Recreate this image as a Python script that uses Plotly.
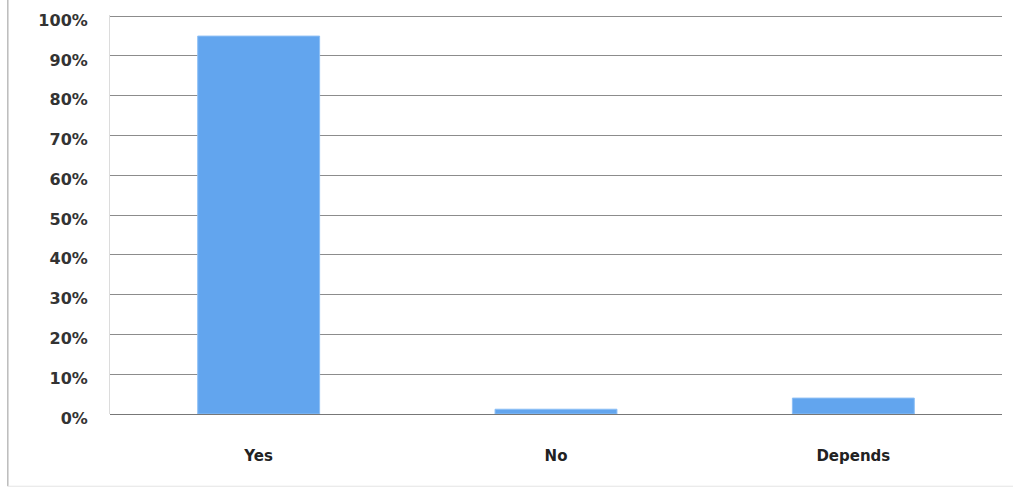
import plotly.graph_objects as go

categories = ["Yes", "No", "Depends"]
values = [95, 1.2, 4]
tick_vals = [0, 10, 20, 30, 40, 50, 60, 70, 80, 90, 100]
tick_text = [f"{v}%" for v in tick_vals]

FONT = "DejaVu Sans, Verdana, sans-serif"

fig = go.Figure()
fig.add_trace(go.Bar(
    x=categories, y=values,
    marker=dict(color="#62a5ee", line=dict(color="#8dbff5", width=1)),
    width=0.41,
))

fig.update_layout(
    width=1013, height=489,
    margin=dict(l=110, r=11, t=15, b=75),
    paper_bgcolor="white", plot_bgcolor="white",
    showlegend=False,
    font=dict(family=FONT, size=16, color="#333333"),
    xaxis=dict(
        showgrid=False, showline=False, ticks="",
        tickfont=dict(family=FONT, size=15, color="#222222", weight="bold"),
        ticklabelstandoff=31,
    ),
    yaxis=dict(
        range=[0, 100.3], tickvals=tick_vals, ticktext=tick_text,
        showgrid=True, gridcolor="#8c8c8c", gridwidth=1,
        zeroline=True, zerolinecolor="#777777", zerolinewidth=1,
        showline=True, linecolor="#dcdcdc", linewidth=1,
        tickfont=dict(family=FONT, size=16, color="#333333", weight="bold"),
        ticklabelstandoff=18,
        ticklabelshift=4,
    ),
    shapes=[
        dict(type="line", xref="paper", yref="paper",
             x0=-0.1145, x1=-0.1145, y0=-0.181, y1=1.05,
             line=dict(color="#9a9a9a", width=1)),
        dict(type="line", xref="paper", yref="paper",
             x0=-0.1145, x1=1.02, y0=-0.181, y1=-0.181,
             line=dict(color="#e4e4e4", width=1)),
    ],
)

fig.write_html("out.html", config={"displayModeBar": False},
               post_script="document.body.style.margin='0';")
